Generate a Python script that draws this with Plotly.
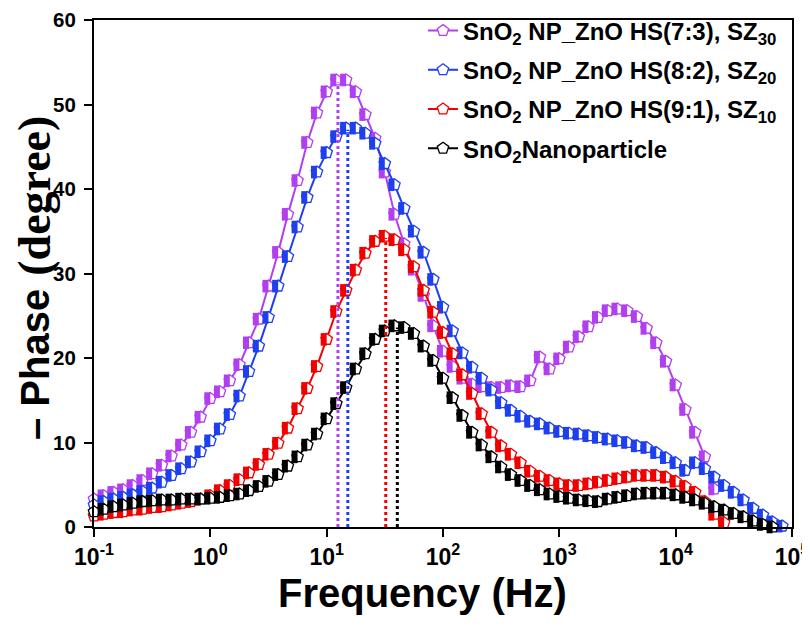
import plotly.graph_objects as go

# ---------------- data ----------------
freq = [0.1, 0.121, 0.147, 0.178, 0.215, 0.261, 0.316, 0.383, 0.464, 0.562, 0.681, 0.825,
        1, 1.21, 1.47, 1.78, 2.15, 2.61, 3.16, 3.83, 4.64, 5.62, 6.81, 8.25,
        10, 12.1, 14.7, 17.8, 21.5, 26.1, 31.6, 38.3, 46.4, 56.2, 68.1, 82.5,
        100, 121, 147, 178, 215, 261, 316, 383, 464, 562, 681, 825,
        1000, 1210, 1470, 1780, 2150, 2610, 3160, 3830, 4640, 5620, 6810, 8250,
        10000, 12100, 14700, 17800, 21500, 26100, 31600, 38300, 46400, 56200, 68100, 82500]

phase_sz30 = [3.3, 3.7, 4.1, 4.4, 4.9, 5.5, 6.3, 7.3, 8.4, 9.7, 11.2, 13.0,
              15.2, 16.0, 17.3, 19.2, 21.8, 24.6, 28.5, 32.5, 37.0, 41.0, 45.5, 49.0,
              51.5, 52.9, 52.9, 51.5, 48.8, 46.0, 42.0, 37.0, 33.5, 30.5, 27.4, 23.8,
              20.8, 19.0, 17.6, 16.9, 16.6, 16.5, 16.5, 16.7, 16.6, 17.3, 20.1, 18.7,
              19.9, 21.3, 22.5, 23.7, 24.8, 25.6, 25.8, 25.6, 24.9, 23.5, 21.8, 19.6,
              16.8, 13.9, 11.2, 8.3, 4.5]

phase_sz20 = [2.6, 3.0, 3.3, 3.5, 3.8, 4.2, 4.6, 5.3, 6.1, 6.9, 7.7, 8.9,
              10.2, 11.6, 13.3, 15.5, 18.4, 21.4, 24.8, 28.5, 32.0, 35.5, 39.0, 42.0,
              44.3, 46.2, 47.2, 47.2, 46.6, 45.4, 43.0, 40.5, 37.7, 35.0, 32.5, 29.3,
              26.0, 23.2, 20.6, 18.9, 17.6, 16.2, 14.7, 13.8, 13.1, 12.5, 12.2, 11.7,
              11.3, 11.1, 11.0, 10.8, 10.6, 10.4, 10.2, 10.0, 9.6, 9.4, 8.8, 8.2,
              7.6, 6.7, 7.6, 6.9, 5.9, 4.9, 4.1, 3.2, 2.2, 1.4, 0.6, 0.1]

phase_sz10 = [1.3, 1.5, 1.7, 1.8, 2.0, 2.1, 2.3, 2.4, 2.6, 2.8, 3.0, 3.3,
              3.7, 4.3, 4.9, 5.6, 6.4, 7.4, 8.6, 9.9, 11.7, 14.0, 16.4, 19.0,
              22.2, 25.5, 28.0, 30.4, 32.4, 33.8, 34.4, 34.0, 32.8, 30.8, 28.0, 25.4,
              23.0, 20.5, 18.0, 15.8, 13.4, 11.2, 9.6, 8.6, 7.6, 6.6, 6.0, 5.5,
              5.1, 4.9, 4.9, 5.1, 5.3, 5.5, 5.7, 5.9, 6.1, 6.1, 6.1, 5.9,
              5.4, 4.8, 4.1, 3.0, 1.5, 0.5]

phase_np = [1.8, 2.1, 2.4, 2.6, 2.8, 3.0, 3.1, 3.2, 3.2, 3.3, 3.3, 3.3,
            3.4, 3.5, 3.7, 3.9, 4.3, 4.8, 5.4, 6.2, 7.2, 8.3, 9.7, 11.0,
            12.8, 14.6, 16.5, 18.7, 20.5, 22.2, 23.2, 23.8, 23.6, 22.9, 21.4, 19.7,
            17.6, 15.3, 13.2, 11.2, 9.7, 8.3, 7.1, 6.2, 5.5, 4.9, 4.4, 3.9,
            3.6, 3.4, 3.2, 3.1, 3.0, 3.3, 3.5, 3.7, 3.9, 4.0, 4.0, 4.0,
            3.8, 3.5, 3.2, 2.8, 2.4, 2.0, 1.6, 1.2, 0.7, 0.3, 0.0]

names = ["SnO<sub>2</sub> NP_ZnO HS(7:3), SZ<sub>30</sub>",
         "SnO<sub>2</sub> NP_ZnO HS(8:2), SZ<sub>20</sub>",
         "SnO<sub>2</sub> NP_ZnO HS(9:1), SZ<sub>10</sub>",
         "SnO<sub>2</sub>Nanoparticle"]
series = [phase_sz30, phase_sz20, phase_sz10, phase_np]
colors = ["#B23FEF", "#1E3FEE", "#F20000", "#000000"]

peak_freq = [12.5, 15.2, 32.2, 40.5]
peak_phase = [52.6, 47.0, 34.2, 23.6]

x_ticks = [0.1, 1, 10, 100, 1000, 10000, 100000]
x_ticktext = ["10<sup>-1</sup>", "10<sup>0</sup>", "10<sup>1</sup>", "10<sup>2</sup>",
              "10<sup>3</sup>", "10<sup>4</sup>", "10<sup>5</sup>"]
y_ticks = [0, 10, 20, 30, 40, 50, 60]

x_title = "Frequency (Hz)"
y_title_sans = "– Phase"
y_title_serif = "(degree)"

# ---------------- layout constants ----------------
W, H = 810, 626
SCREEN_OFF = 8            # default page (body) margin in front of the figure
ML, MR, MT, MB = 86, 26, 12, 107
plot_w = W - ML - MR
plot_h = H - MT - MB
px_per_dec = plot_w / 6.0
SANS = "Liberation Sans, Arial, sans-serif"
SERIF = "Liberation Serif, Times New Roman, serif"
MSIZE = 12


def sx(px):
    """screen pixel x -> paper x"""
    return (px - SCREEN_OFF - ML) / plot_w


def sy(py):
    """screen pixel y -> paper y"""
    return (H - MB - (py - SCREEN_OFF)) / plot_h


fig = go.Figure()

half_shift = 10 ** (-3.0 / px_per_dec)  # offset of the left-half fill

for name, ys, col in zip(names, series, colors):
    xs = freq[:len(ys)]
    fig.add_trace(go.Scatter(
        x=xs, y=ys, mode="lines+markers", name=name, legendgroup=name,
        line=dict(color=col, width=2),
        marker=dict(symbol="pentagon", size=MSIZE, color="white",
                    line=dict(color=col, width=1.3)),
        cliponaxis=False,
    ))
    fig.add_trace(go.Scatter(
        x=[v * half_shift for v in xs], y=ys, mode="markers", legendgroup=name,
        showlegend=False, hoverinfo="skip",
        marker=dict(symbol="line-ns", size=9, color=col,
                    line=dict(color=col, width=6)),
        cliponaxis=False,
    ))

for pf, pv, col in zip(peak_freq, peak_phase, colors):
    fig.add_trace(go.Scatter(
        x=[pf, pf], y=[0, pv], mode="lines", showlegend=False, hoverinfo="skip",
        line=dict(color=col, width=3, dash="dot"),
    ))

axis_common = dict(
    showgrid=False, zeroline=False, showline=True, linecolor="black", linewidth=2,
    mirror=True, ticks="outside", ticklen=8, tickwidth=2, tickcolor="black",
    automargin=False, ticklabeloverflow="allow",
)

legend_top_fig = 32 - SCREEN_OFF - 23.5
legend_y = 1 + (MT - legend_top_fig) / plot_h

fig.update_layout(
    width=W, height=H,
    margin=dict(l=ML, r=MR, t=MT, b=MB, autoexpand=False),
    plot_bgcolor="white", paper_bgcolor="white",
    xaxis=dict(
        type="log", range=[-1, 5], tickvals=x_ticks, ticktext=x_ticktext,
        tickfont=dict(family=SANS, size=23, color="black", weight="bold"),
        **axis_common,
    ),
    yaxis=dict(
        range=[0, 60], tickvals=y_ticks, ticklabelstandoff=4,
        tickfont=dict(family=SANS, size=20.5, color="black", weight="bold"),
        **axis_common,
    ),
    legend=dict(
        x=sx(423), y=legend_y, xanchor="left", yanchor="top",
        bgcolor="rgba(0,0,0,0)", borderwidth=0,
        font=dict(family=SANS, size=24, color="black", weight="bold"),
        tracegroupgap=5,
    ),
    showlegend=True,
    annotations=[
        dict(text="<b>" + x_title + "</b>", xref="paper", yref="paper",
             x=sx(422), y=sy(593), xanchor="center", yanchor="middle",
             showarrow=False, font=dict(family=SANS, size=40, color="black")),
        dict(text="<b>" + y_title_sans + "</b>", xref="paper", yref="paper", textangle=-90,
             x=sx(SCREEN_OFF + 27), y=sy(365), xanchor="center", yanchor="middle",
             showarrow=False, font=dict(family=SANS, size=40, color="black")),
        dict(text="<b>" + y_title_serif + "</b>", xref="paper", yref="paper", textangle=-90,
             x=sx(SCREEN_OFF + 25.7), y=sy(196), xanchor="center", yanchor="middle",
             showarrow=False, font=dict(family=SERIF, size=46, color="black")),
    ],
)

fig.write_html("out.html")
